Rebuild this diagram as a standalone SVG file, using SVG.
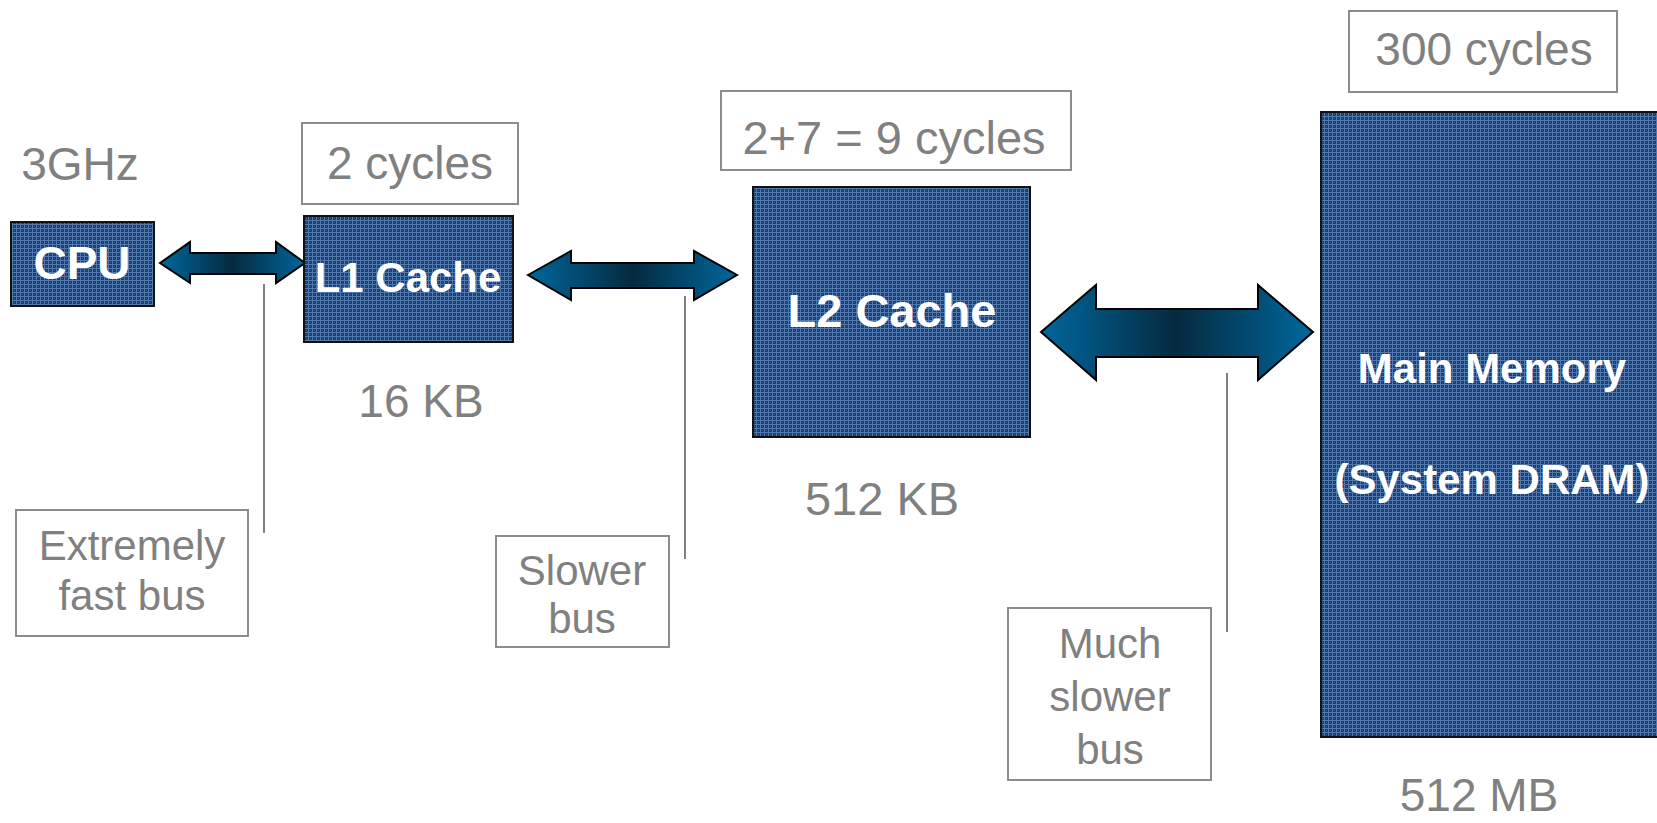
<svg xmlns="http://www.w3.org/2000/svg" width="1657" height="823" viewBox="0 0 1657 823">
<style>
.blk{fill:url(#grid);stroke:#111;stroke-width:2}
.bt{font-family:"Liberation Sans",Arial,sans-serif;font-weight:bold;fill:#fff;text-anchor:middle}
.gt{font-family:"Liberation Sans",Arial,sans-serif;fill:#808080;text-anchor:middle}
.lb{fill:#fff;stroke:#8c8c8c;stroke-width:2}
.arr{fill:url(#ag);stroke:#000;stroke-width:2;stroke-linejoin:miter}
.ld{stroke:#808080;stroke-width:2;fill:none}
</style>
<defs>
<pattern id="grid" width="4" height="4" patternUnits="userSpaceOnUse">
<rect width="4" height="4" fill="#163e76"/>
<rect width="4" height="1" fill="#5479ac"/>
<rect width="1" height="4" fill="#5479ac"/>
<rect x="2" y="2" width="1" height="1" fill="#365e94"/>
</pattern>
<linearGradient id="ag" x1="0" y1="0" x2="1" y2="0">
<stop offset="0" stop-color="#00679d"/>
<stop offset="0.5" stop-color="#052a40"/>
<stop offset="1" stop-color="#00679d"/>
</linearGradient>
</defs>
<rect width="1657" height="823" fill="#fff"/>

<g id="connectors">
<path class="arr" d="M160,263 L190,242 L190,253 L276,253 L276,242 L305,263 L276,283 L276,274 L190,274 L190,283 Z"/>
<path class="arr" d="M528,275 L571,251 L571,263 L694,263 L694,251 L737,275 L694,300 L694,288 L571,288 L571,300 Z"/>
<path class="arr" d="M1041,332 L1096,285 L1096,309 L1258,309 L1258,285 L1313,332 L1258,380 L1258,357 L1096,357 L1096,380 Z"/>
<line class="ld" x1="264" y1="284" x2="264" y2="533"/>
<line class="ld" x1="685" y1="296" x2="685" y2="559"/>
<line class="ld" x1="1227" y1="373" x2="1227" y2="632"/>
</g>

<g id="cpu">
<rect class="blk" x="11" y="222" width="143" height="84"/>
<text class="bt" x="82" y="279" font-size="46">CPU</text>
<text class="gt" x="80" y="180" font-size="46">3GHz</text>
</g>

<g id="l1">
<rect class="blk" x="304" y="216" width="209" height="126"/>
<text class="bt" x="408" y="292" font-size="42">L1 Cache</text>
<rect class="lb" x="302" y="123" width="216" height="81"/>
<text class="gt" x="410" y="179" font-size="46">2 cycles</text>
<text class="gt" x="421" y="417" font-size="46">16 KB</text>
</g>

<g id="l2">
<rect class="blk" x="753" y="187" width="277" height="250"/>
<text class="bt" x="892" y="327" font-size="47">L2 Cache</text>
<rect class="lb" x="721" y="91" width="350" height="79"/>
<text class="gt" x="894" y="154" font-size="47">2+7 = 9 cycles</text>
<text class="gt" x="882" y="515" font-size="47">512 KB</text>
</g>

<g id="mainmem">
<rect class="blk" x="1321" y="112" width="342" height="625"/>
<text class="bt" x="1492" y="383" font-size="42">Main Memory</text>
<text class="bt" x="1492" y="494" font-size="42">(System DRAM)</text>
<rect class="lb" x="1349" y="11" width="268" height="81"/>
<text class="gt" x="1484" y="65" font-size="46">300 cycles</text>
<text class="gt" x="1479" y="811" font-size="46">512 MB</text>
</g>

<g id="bus1">
<rect class="lb" x="16" y="510" width="232" height="126"/>
<text class="gt" x="132" y="560" font-size="42">Extremely</text>
<text class="gt" x="132" y="610" font-size="42">fast bus</text>
</g>

<g id="bus2">
<rect class="lb" x="496" y="536" width="173" height="111"/>
<text class="gt" x="582" y="585" font-size="42">Slower</text>
<text class="gt" x="582" y="633" font-size="42">bus</text>
</g>

<g id="bus3">
<rect class="lb" x="1008" y="608" width="203" height="172"/>
<text class="gt" x="1110" y="658" font-size="42">Much</text>
<text class="gt" x="1110" y="711" font-size="42">slower</text>
<text class="gt" x="1110" y="764" font-size="42">bus</text>
</g>
</svg>
